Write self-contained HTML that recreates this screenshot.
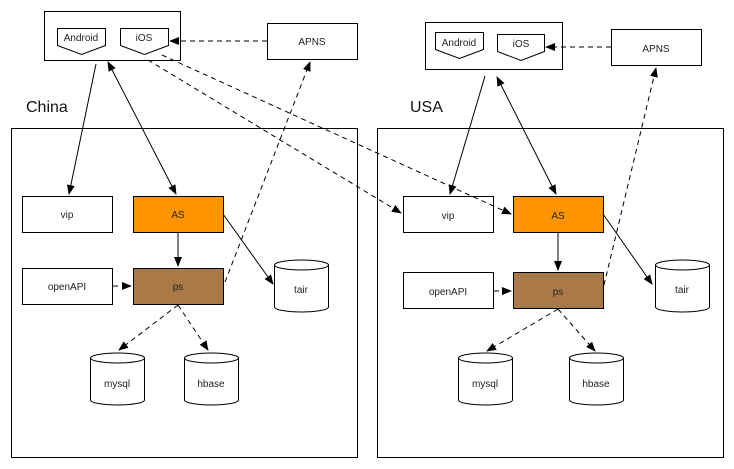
<!DOCTYPE html>
<html><head><meta charset="utf-8"><style>html,body{margin:0;padding:0;background:#fff}svg{display:block}</style></head><body>
<svg width="734" height="469" viewBox="0 0 734 469" xmlns="http://www.w3.org/2000/svg" font-family="Liberation Sans, sans-serif">
<defs>
<marker id="a" markerWidth="10" markerHeight="8" refX="9" refY="4" orient="auto" markerUnits="userSpaceOnUse"><path d="M0,0 L10,4 L0,8 Z" fill="#000"/></marker>
<marker id="s" markerWidth="10" markerHeight="8" refX="1" refY="4" orient="auto" markerUnits="userSpaceOnUse"><path d="M10,0 L0,4 L10,8 Z" fill="#000"/></marker>
</defs>
<g fill="none" stroke="#000" stroke-width="1">
<rect x="11.5" y="128.5" width="346" height="329"/>
<rect x="377.5" y="128.5" width="346" height="329"/>
<rect x="44.5" y="11.5" width="136" height="49"/>
<rect x="425.5" y="22.5" width="137" height="47"/>
<path d="M57.5,28.5h48v17l-24,9l-24,-9z"/>
<path d="M120.5,28.5h48v17l-24,9l-24,-9z"/>
<path d="M435.5,32.5h48v17l-24,9l-24,-9z"/>
<path d="M497.5,34.5h47v17l-23.5,9l-23.5,-9z"/>
<rect x="267.5" y="23.5" width="90" height="36"/>
<rect x="611.5" y="29.5" width="90" height="36"/>
<rect x="22.5" y="196.5" width="90" height="36"/>
<rect x="22.5" y="268.5" width="90" height="36"/>
<rect x="403.5" y="196.5" width="90" height="36"/>
<rect x="403.5" y="272.5" width="90" height="36"/>
</g>
<rect x="133.5" y="196.5" width="90" height="36" fill="#fd9400" stroke="#000"/>
<rect x="513.5" y="196.5" width="90" height="36" fill="#fd9400" stroke="#000"/>
<rect x="133.5" y="268.5" width="90" height="36" fill="#a97a47" stroke="#000"/>
<rect x="513.5" y="272.5" width="90" height="36" fill="#a97a47" stroke="#000"/>
<g fill="#fff" stroke="#000">
<path d="M274.5,265 v42 a27,5 0 0 0 54,0 v-42 a27,5 0 0 0 -54,0 a27,5 0 0 0 54,0"/>
<path d="M90.5,358 v42 a27,5 0 0 0 54,0 v-42 a27,5 0 0 0 -54,0 a27,5 0 0 0 54,0"/>
<path d="M184.5,358 v42 a27,5 0 0 0 54,0 v-42 a27,5 0 0 0 -54,0 a27,5 0 0 0 54,0"/>
<path d="M655.5,265 v42 a27,5 0 0 0 54,0 v-42 a27,5 0 0 0 -54,0 a27,5 0 0 0 54,0"/>
<path d="M458.5,358 v42 a27,5 0 0 0 54,0 v-42 a27,5 0 0 0 -54,0 a27,5 0 0 0 54,0"/>
<path d="M569.5,358 v42 a27,5 0 0 0 54,0 v-42 a27,5 0 0 0 -54,0 a27,5 0 0 0 54,0"/>
</g>
<g stroke="#000" fill="none">
<line x1="96" y1="64" x2="69" y2="194" marker-end="url(#a)"/>
<line x1="108" y1="62" x2="176" y2="194" marker-start="url(#s)" marker-end="url(#a)"/>
<line x1="178" y1="233" x2="178" y2="266" marker-end="url(#a)"/>
<line x1="223" y1="214" x2="273" y2="284" marker-end="url(#a)"/>
<line x1="485" y1="76" x2="450" y2="194" marker-end="url(#a)"/>
<line x1="497" y1="77" x2="556" y2="194" marker-start="url(#s)" marker-end="url(#a)"/>
<line x1="558" y1="233" x2="558" y2="270" marker-end="url(#a)"/>
<line x1="603" y1="214" x2="652" y2="284" marker-end="url(#a)"/>
</g>
<g stroke="#000" fill="none" stroke-dasharray="5,4">
<line x1="267" y1="41" x2="170" y2="41" marker-end="url(#a)"/>
<line x1="225" y1="282" x2="310" y2="62" marker-end="url(#a)"/>
<line x1="113" y1="286" x2="131" y2="286" marker-end="url(#a)"/>
<line x1="178" y1="305" x2="119" y2="350" marker-end="url(#a)"/>
<line x1="178" y1="305" x2="208" y2="350" marker-end="url(#a)"/>
<line x1="162" y1="55" x2="511" y2="214" marker-end="url(#a)"/>
<line x1="148" y1="60" x2="401" y2="213" marker-end="url(#a)"/>
<line x1="611" y1="47" x2="546" y2="47" marker-end="url(#a)"/>
<line x1="604" y1="285" x2="656" y2="68" marker-end="url(#a)"/>
<line x1="494" y1="291" x2="511" y2="291" marker-end="url(#a)"/>
<line x1="558" y1="309" x2="487" y2="351" marker-end="url(#a)"/>
<line x1="558" y1="309" x2="595" y2="351" marker-end="url(#a)"/>
</g>
<g font-size="10" text-anchor="middle" fill="#222">
<text x="81" y="41">Android</text><text x="144" y="41">iOS</text>
<text x="459" y="46">Android</text><text x="521" y="47">iOS</text>
<text x="312" y="45">APNS</text><text x="656" y="52">APNS</text>
<text x="67" y="218">vip</text><text x="178" y="218">AS</text>
<text x="67" y="290">openAPI</text><text x="178" y="290">ps</text>
<text x="301" y="293">tair</text><text x="117" y="387">mysql</text><text x="211" y="387">hbase</text>
<text x="448" y="219">vip</text><text x="558" y="219">AS</text>
<text x="448" y="295">openAPI</text><text x="558" y="295">ps</text>
<text x="682" y="293">tair</text><text x="485" y="387">mysql</text><text x="596" y="387">hbase</text>
</g>
<text x="26" y="112" font-size="16" fill="#111">China</text>
<text x="410" y="112" font-size="16" fill="#111">USA</text>
</svg>
</body></html>
